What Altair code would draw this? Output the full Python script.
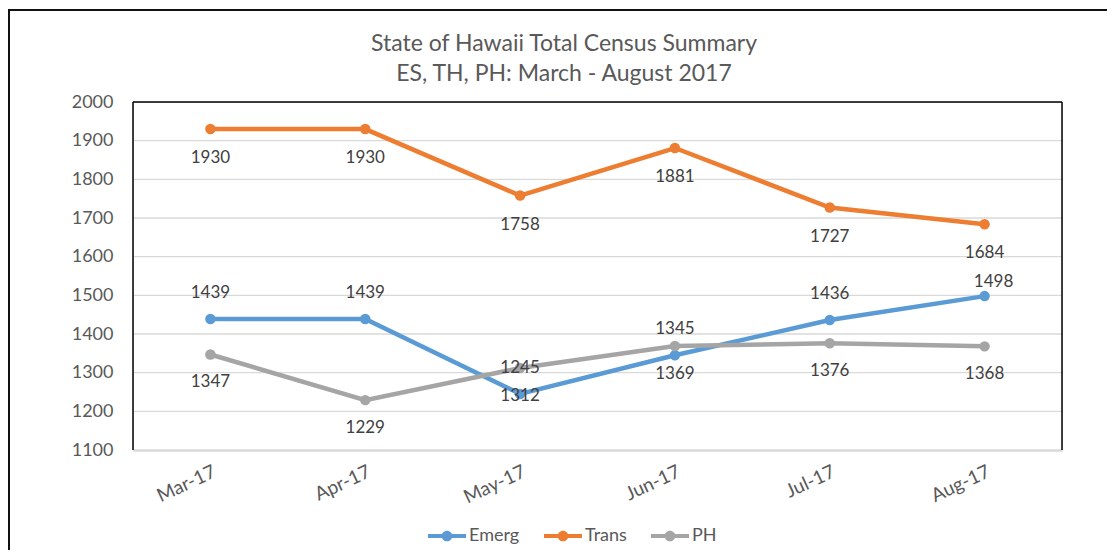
import altair as alt
import pandas as pd

months = ["Mar-17", "Apr-17", "May-17", "Jun-17", "Jul-17", "Aug-17"]
series = ["Emerg", "Trans", "PH"]
emerg = [1439, 1439, 1245, 1345, 1436, 1498]
trans = [1930, 1930, 1758, 1881, 1727, 1684]
ph = [1347, 1229, 1312, 1369, 1376, 1368]
colors = ["#5B9BD5", "#ED7D31", "#A5A5A5"]
y_ticks = [1100, 1200, 1300, 1400, 1500, 1600, 1700, 1800, 1900, 2000]
grid_values = [1200, 1300, 1400, 1500, 1600, 1700, 1800, 1900]
title_lines = ["State of Hawaii Total Census Summary", "ES, TH, PH: March - August 2017"]

rows = []
for name, vals in zip(series, [emerg, trans, ph]):
    for m, v in zip(months, vals):
        rows.append({"month": m, "series": name, "value": v})
df = pd.DataFrame(rows)

W, H = 929, 348
FONT = "Lato"
LABEL_C = "#595959"

x_axis = alt.Axis(title=None, labelAngle=-25, labelAlign="right", labelBaseline="top",
                  labelPadding=12, labelFontSize=19, labelColor=LABEL_C, labelFont=FONT,
                  domain=True, domainColor="#D9D9D9", domainWidth=2.5,
                  ticks=False, grid=False)
x_enc = alt.X("month:N", sort=months, scale=alt.Scale(type="point", padding=0.5), axis=x_axis)
y_scale = alt.Scale(domain=[1100, 2000], nice=False, zero=False)
y_axis = alt.Axis(title=None, values=y_ticks, format="d", labelOverlap=False,
                  labelFontSize=18, labelColor=LABEL_C,
                  labelFont=FONT, labelPadding=20, domain=False, ticks=False, grid=False)
y_enc = alt.Y("value:Q", scale=y_scale, axis=y_axis)

legend_path = ("M-1,-0.11H1V0.11H-1Z "
               "M0.28,0A0.28,0.28,0,1,1,-0.28,0A0.28,0.28,0,1,1,0.28,0Z")
color_enc = alt.Color(
    "series:N", sort=series,
    scale=alt.Scale(domain=series, range=colors),
    legend=alt.Legend(title=None, orient="none", legendX=295, legendY=415,
                      direction="horizontal", symbolType=legend_path, symbolSize=1444,
                      symbolStrokeWidth=0, labelFontSize=18, labelColor=LABEL_C,
                      labelFont=FONT, columnPadding=24, labelOffset=3, padding=0),
)

grid = alt.Chart(pd.DataFrame({"value": grid_values})).mark_rule(
    color="#D9D9D9", strokeWidth=1.3
).encode(y=y_enc)

base = alt.Chart(df).encode(x=x_enc, y=y_enc, color=color_enc)
points = base.mark_point(filled=True, size=110, opacity=1)
lines = base.mark_line(strokeWidth=4.5)

def labels(cond, dy, dx=0):
    return alt.Chart(df).transform_filter(cond).mark_text(
        dy=dy, dx=dx, fontSize=17, font=FONT, color="#404040"
    ).encode(x=x_enc, y=y_enc, text="value:Q")

is_aug = alt.datum.month == "Aug-17"
title_df = pd.DataFrame({"t": title_lines, "i": [0, 1]})
title1 = alt.Chart(title_df).transform_filter(alt.datum.i == 0).mark_text(
    fontSize=23, font=FONT, color=LABEL_C
).encode(x=alt.value(431), y=alt.value(-58), text="t:N")
title2 = alt.Chart(title_df).transform_filter(alt.datum.i == 1).mark_text(
    fontSize=23, font=FONT, color=LABEL_C
).encode(x=alt.value(431), y=alt.value(-28), text="t:N")

one = pd.DataFrame({"a": [0]})
outer = alt.Chart(one).mark_rect(
    fill=None, stroke="#111111", strokeWidth=2
).encode(x=alt.value(-124), x2=alt.value(W + 300), y=alt.value(-92), y2=alt.value(H + 300))

frame_top = alt.Chart(one).mark_rule(color="#000000", strokeWidth=1.5).encode(
    x=alt.value(0), x2=alt.value(W), y=alt.value(0))
frame_left = alt.Chart(one).mark_rule(color="#000000", strokeWidth=1.5).encode(
    x=alt.value(0), y=alt.value(0), y2=alt.value(H))
frame_right = alt.Chart(one).mark_rule(color="#000000", strokeWidth=1.5).encode(
    x=alt.value(W), y=alt.value(0), y2=alt.value(H))

chart = alt.layer(
    outer, grid, frame_top, frame_left, frame_right, lines, points,
    labels((alt.datum.series == "Emerg") & ~is_aug, -26),
    labels((alt.datum.series == "Emerg") & is_aug, -14, 9),
    labels(alt.datum.series == "Trans", 29),
    labels(alt.datum.series == "PH", 28),
    title1, title2,
).properties(
    width=W, height=H,
    autosize=alt.AutoSizeParams(type="none"),
    padding={"left": 125, "top": 94, "right": 45, "bottom": 100},
).configure_view(
    stroke=None
).configure_axisY(
    labelOverlap=False
).configure(background="white")

chart.save("out.html", embed_options={"renderer": "svg", "actions": False})
